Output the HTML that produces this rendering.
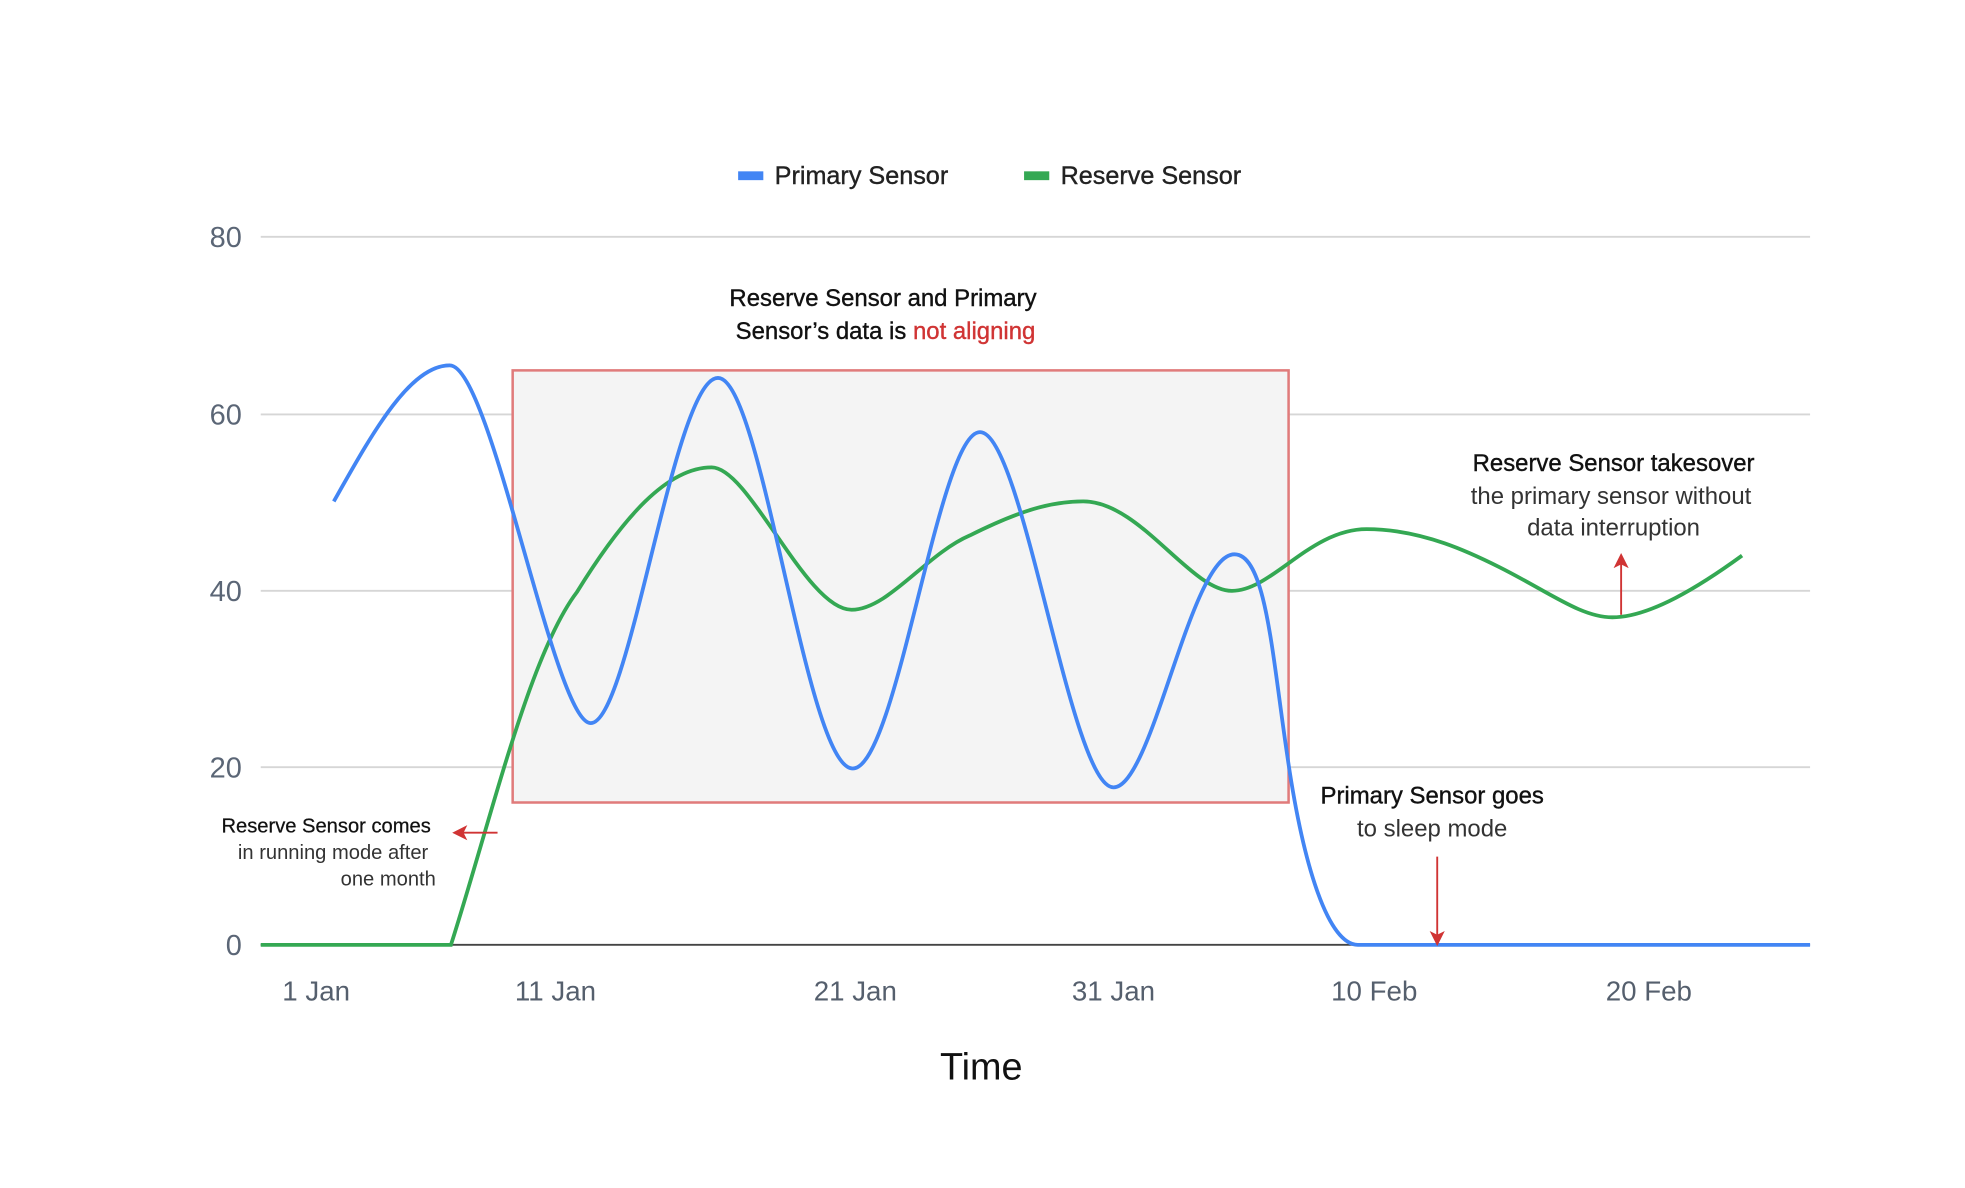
<!DOCTYPE html>
<html><head><meta charset="utf-8"><style>
html,body{margin:0;padding:0;background:#fff;}
svg{display:block;}
text{font-family:"Liberation Sans",sans-serif;}
</style></head><body>
<svg width="1965" height="1188" viewBox="0 0 1560 943" preserveAspectRatio="none" xmlns="http://www.w3.org/2000/svg">
<defs>
<marker id="ah" markerWidth="12" markerHeight="12" refX="9" refY="6" orient="auto" markerUnits="userSpaceOnUse"><path d="M0,0 L12,6 L0,12 L3,6 Z" fill="#d03434"/></marker>
</defs>
<rect width="1560" height="943" fill="#fff"/>
<rect x="586" y="136" width="20" height="7" fill="#4285f4"/>
<text x="615" y="146" font-size="20" fill="#222" stroke="#222" stroke-width="0.3">Primary Sensor</text>
<rect x="813" y="136" width="20" height="7" fill="#34a853"/>
<text x="842" y="146" font-size="20" fill="#222" stroke="#222" stroke-width="0.3">Reserve Sensor</text>
<g stroke="#d6d6d6" stroke-width="1.5">
<line x1="207" y1="188" x2="1437" y2="188"/>
<line x1="207" y1="329" x2="1437" y2="329"/>
<line x1="207" y1="469" x2="1437" y2="469"/>
<line x1="207" y1="609" x2="1437" y2="609"/>
</g>
<g font-size="23" fill="#5b6676" text-anchor="end">
<text x="192" y="196">80</text>
<text x="192" y="337">60</text>
<text x="192" y="477">40</text>
<text x="192" y="617">20</text>
<text x="192" y="758">0</text>
</g>
<rect x="407" y="294" width="616" height="343" fill="#f4f4f4" stroke="#e07b7b" stroke-width="2"/>
<line x1="207" y1="750" x2="1437" y2="750" stroke="#444" stroke-width="1.5"/>
<path d="M207,750 L358,750 C390,650 420,520 458,470 C495,410 530,371 565,371 C595,371 640,484 676,484 C705,484 735,440 770,425 C810,405 835,398 860,398 C905,398 945,469 978,469 C1010,469 1040,420 1085,420 C1130,420 1170,440 1190,450 C1230,470 1255,490 1280,490 C1310,490 1350,465 1383,441" fill="none" stroke="#34a853" stroke-width="3"/>
<path d="M265,398 C295,345 325,290 357,290 C390,290 440,574 469,574 C500,574 535,300 570,300 C605,300 640,610 677,610 C712,610 745,343 778,343 C812,343 850,625 884,625 C915,625 945,440 980,440 C1005,440 1010,520 1022,600 C1035,690 1055,750 1078,750 L1437,750" fill="none" stroke="#4285f4" stroke-width="3"/>
<g font-size="22" fill="#555f6d" text-anchor="middle">
<text x="251" y="794">1 Jan</text>
<text x="441" y="794">11 Jan</text>
<text x="679" y="794">21 Jan</text>
<text x="884" y="794">31 Jan</text>
<text x="1091" y="794">10 Feb</text>
<text x="1309" y="794">20 Feb</text>
</g>
<text x="779" y="857" font-size="30" fill="#111" text-anchor="middle">Time</text>
<g font-size="19" fill="#111" text-anchor="middle">
<text x="701" y="243" stroke="#111" stroke-width="0.3">Reserve Sensor and Primary</text>
<text x="703" y="269" stroke="#111" stroke-width="0.3">Sensor’s data is <tspan fill="#d03434" stroke="#d03434">not aligning</tspan></text>
<text x="1281" y="374" stroke="#111" stroke-width="0.3">Reserve Sensor takesover</text>
<text x="1279" y="400" fill="#333">the primary sensor without</text>
<text x="1281" y="425" fill="#333">data interruption</text>
<text x="1137" y="638" stroke="#111" stroke-width="0.3">Primary Sensor goes</text>
<text x="1137" y="664" fill="#333">to sleep mode</text>
</g>
<g font-size="16" fill="#111" text-anchor="end">
<text x="342" y="661" stroke="#111" stroke-width="0.2">Reserve Sensor comes</text>
<text x="340" y="682" fill="#333">in running mode after</text>
<text x="346" y="703" fill="#333">one month</text>
</g>
<g stroke="#d03434" stroke-width="1.5" fill="none">
<line x1="395" y1="661" x2="362" y2="661" marker-end="url(#ah)"/>
<line x1="1287" y1="488" x2="1287" y2="442" marker-end="url(#ah)"/>
<line x1="1141" y1="680" x2="1141" y2="748" marker-end="url(#ah)"/>
</g>
</svg>
</body></html>
